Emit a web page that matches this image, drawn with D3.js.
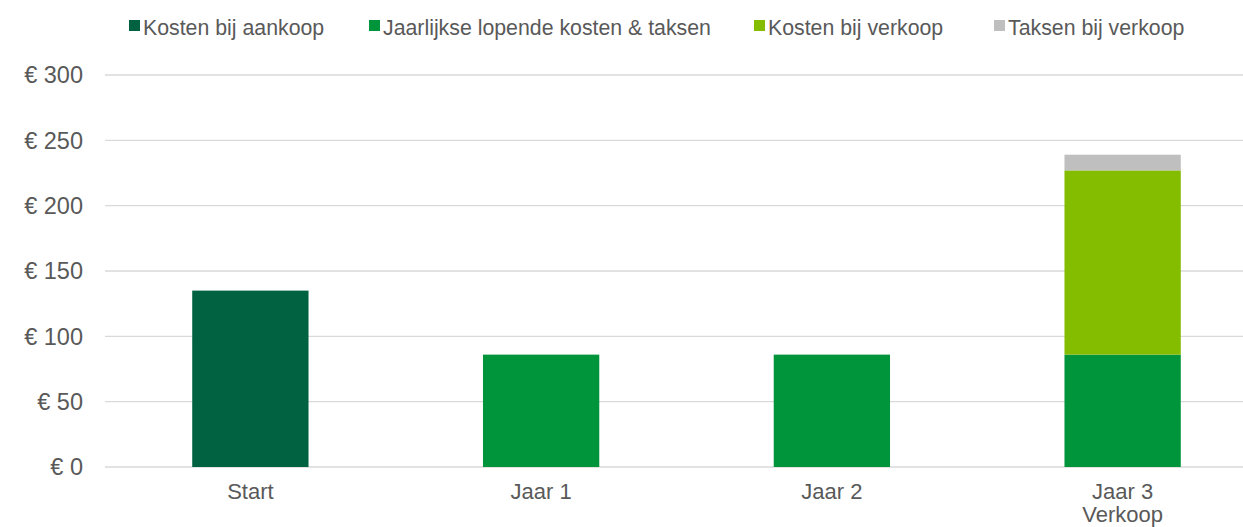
<!DOCTYPE html>
<html>
<head>
<meta charset="utf-8">
<script src="https://cdn.jsdelivr.net/npm/d3@7"></script>
<style>
  body { margin: 0; background: #fff; }
  text { font-family: "Liberation Sans", Arial, sans-serif; fill: #595959; }
</style>
</head>
<body>
<div id="container"></div>
<script>
/**
 * DATA
 * */
const categories = ["Start", "Jaar 1", "Jaar 2", "Jaar 3\nVerkoop"];
const seriesNames = ["Kosten bij aankoop", "Jaarlijkse lopende kosten & taksen", "Kosten bij verkoop", "Taksen bij verkoop"];
const aankoop = [135, 0, 0, 0];
const lopend = [0, 86, 86, 86];
const verkoop = [0, 0, 0, 141];
const taksen = [0, 0, 0, 12];
const yTicks = [0, 50, 100, 150, 200, 250, 300];
const colors = ["#006241", "#00953A", "#84BD00", "#BFBFBF"];

/**
 * CONSTANTS
 * */
const width = 1243, height = 527;
const margin = { top: 75, bottom: 60, left: 105, right: -25 };

const svg = d3.select("#container")
  .append("svg")
  .attr("width", width)
  .attr("height", height);

const x = d3.scaleBand()
  .domain(categories)
  .range([margin.left, width - margin.right])
  .paddingInner(0.6)
  .paddingOuter(0.3);

const y = d3.scaleLinear()
  .domain([0, 300])
  .range([height - margin.bottom, margin.top]);

// grid lines
svg.append("g")
  .selectAll("line")
  .data(yTicks)
  .join("line")
  .attr("x1", margin.left)
  .attr("x2", width)
  .attr("y1", d => y(d))
  .attr("y2", d => y(d))
  .attr("stroke", "#D9D9D9")
  .attr("stroke-width", 1.3);

// y axis labels
svg.append("g")
  .selectAll("text")
  .data(yTicks)
  .join("text")
  .attr("x", 83)
  .attr("y", d => y(d))
  .attr("dy", "0.36em")
  .attr("text-anchor", "end")
  .style("font-size", "23.5px")
  .text(d => `€ ${d}`);

// stack
const table = categories.map((c, i) => ({
  cat: c, s0: aankoop[i], s1: lopend[i], s2: verkoop[i], s3: taksen[i]
}));
const stack = d3.stack().keys(["s0", "s1", "s2", "s3"])(table);

svg.append("g")
  .selectAll("g")
  .data(stack)
  .join("g")
  .attr("fill", (d, i) => colors[i])
  .selectAll("rect")
  .data(d => d.filter(p => p[1] > p[0]))
  .join("rect")
  .attr("x", d => x(d.data.cat))
  .attr("width", x.bandwidth())
  .attr("y", d => y(d[1]))
  .attr("height", d => y(d[0]) - y(d[1]));

// x labels
const xl = svg.append("g")
  .selectAll("text")
  .data(categories)
  .join("text")
  .attr("x", d => x(d) + x.bandwidth() / 2)
  .attr("y", 499)
  .attr("text-anchor", "middle")
  .style("font-size", "22px");
xl.selectAll("tspan")
  .data(d => d.split("\n"))
  .join("tspan")
  .attr("x", function () { return d3.select(this.parentNode).attr("x"); })
  .attr("dy", (d, i) => i === 0 ? 0 : 22.5)
  .text(d => d);

// legend
const legendX = [129, 369, 754, 994];
const legend = svg.append("g")
  .selectAll("g")
  .data(seriesNames)
  .join("g")
  .attr("transform", (d, i) => `translate(${legendX[i]},0)`);
legend.append("rect")
  .attr("x", 0).attr("y", 20)
  .attr("width", 11).attr("height", 11)
  .attr("fill", (d, i) => colors[i]);
legend.append("text")
  .attr("x", 14).attr("y", 35)
  .style("font-size", "21.3px")
  .text(d => d);
</script>
</body>
</html>
